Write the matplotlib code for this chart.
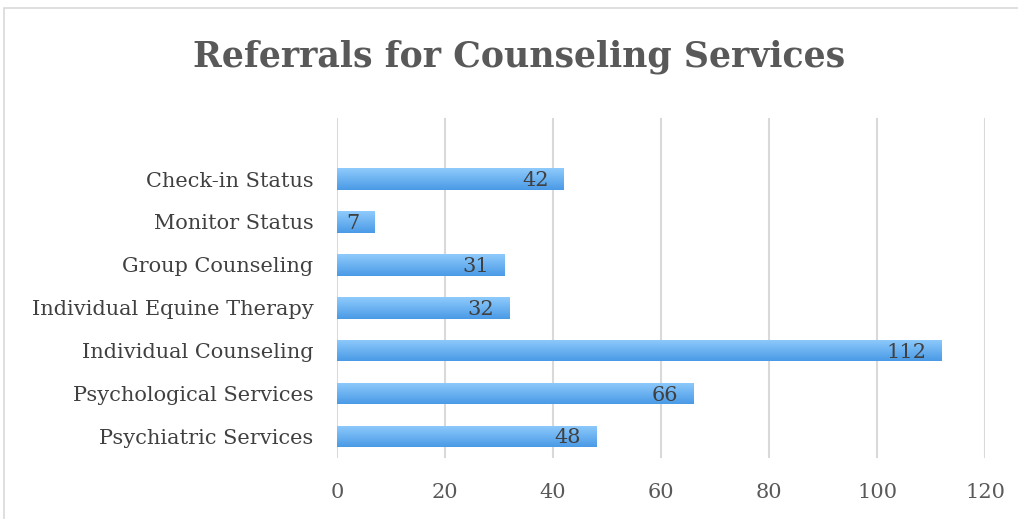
import numpy as np
import matplotlib
matplotlib.use("Agg")
import matplotlib.pyplot as plt
from matplotlib.patches import Rectangle
from matplotlib.colors import LinearSegmentedColormap

# Data (bottom to top, as drawn)
categories = ["Psychiatric Services", "Psychological Services", "Individual Counseling",
              "Individual Equine Therapy", "Group Counseling", "Monitor Status",
              "Check-in Status"]
referrals = [48, 66, 112, 32, 31, 7, 42]
x_ticks = [0, 20, 40, 60, 80, 100, 120]

plt.rcParams["font.family"] = ["DejaVu Serif"]

fig = plt.figure(figsize=(10.18, 5.19), dpi=100)
ax = fig.add_axes([0.331, 0.1175, 0.6366, 0.655])

# chart border
fig.patches.append(Rectangle((4 / 1018, -0.05), 1.1, 1 - 8 / 519 + 0.05,
                             transform=fig.transFigure, fill=False,
                             edgecolor="#D9D9D9", linewidth=1.2))

y = np.arange(len(categories))
bars = ax.barh(y, referrals, height=0.5, color="none", zorder=3)

# vertical gradient fill: light on top, darker at bottom
cmap = LinearSegmentedColormap.from_list("blue", ["#4A9AE6", "#8FCBFC"])
grad = np.linspace(0, 1, 100).reshape(-1, 1)
for b in bars:
    x0, y0 = b.get_x(), b.get_y()
    w, h = b.get_width(), b.get_height()
    im = ax.imshow(grad, cmap=cmap, aspect="auto", origin="lower",
                   extent=[x0, x0 + w, y0, y0 + h], zorder=3)
    im.set_clip_path(b)

for yi, v in zip(y, referrals):
    ax.annotate(str(v), xy=(v, yi), xytext=(-11, -1), textcoords="offset points",
                ha="right", va="center", fontsize=15, color="#404040", zorder=4)

ax.set_xlim(0, 120)
ax.set_ylim(-0.5, 7.42)
ax.set_xticks(x_ticks)
ax.set_yticks(y)
ax.set_yticklabels(categories)
ax.tick_params(axis="both", length=0, labelsize=15)
ax.tick_params(axis="y", pad=17, labelcolor="#404040")
ax.tick_params(axis="x", pad=18, labelcolor="#595959")
ax.grid(axis="x", color="#D9D9D9", linewidth=1.5, zorder=0)
for s in ax.spines.values():
    s.set_visible(False)

fig.text(0.5095, 0.89, "Referrals for Counseling Services", ha="center", va="center",
         fontsize=25, fontweight="bold", color="#595959")

fig.savefig("out.png", dpi=100)
